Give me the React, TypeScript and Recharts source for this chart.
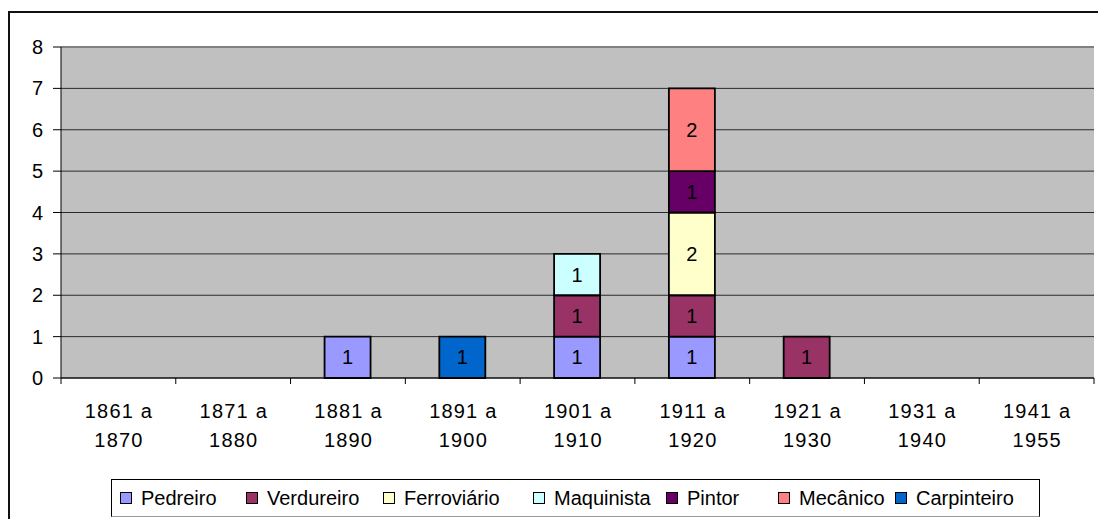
import React from 'react';
import { BarChart, Bar, XAxis, YAxis, CartesianGrid, ReferenceLine, LabelList } from 'recharts';

const categories = ['1861 a 1870', '1871 a 1880', '1881 a 1890', '1891 a 1900', '1901 a 1910', '1911 a 1920', '1921 a 1930', '1931 a 1940', '1941 a 1955'];
const pedreiro = [null, null, 1, null, 1, 1, null, null, null];
const verdureiro = [null, null, null, null, 1, 1, 1, null, null];
const ferroviario = [null, null, null, null, null, 2, null, null, null];
const maquinista = [null, null, null, null, 1, null, null, null, null];
const pintor = [null, null, null, null, null, 1, null, null, null];
const mecanico = [null, null, null, null, null, 2, null, null, null];
const carpinteiro = [null, null, null, 1, null, null, null, null, null];
const yTicks = [0, 1, 2, 3, 4, 5, 6, 7, 8];

const series = [
  { key: 'pedreiro', name: 'Pedreiro', color: '#9999FF', values: pedreiro },
  { key: 'verdureiro', name: 'Verdureiro', color: '#993366', values: verdureiro },
  { key: 'ferroviario', name: 'Ferroviário', color: '#FFFFCC', values: ferroviario },
  { key: 'maquinista', name: 'Maquinista', color: '#CCFFFF', values: maquinista },
  { key: 'pintor', name: 'Pintor', color: '#660066', values: pintor },
  { key: 'mecanico', name: 'Mecânico', color: '#FF8080', values: mecanico },
  { key: 'carpinteiro', name: 'Carpinteiro', color: '#0066CC', values: carpinteiro },
];

const data = categories.map((c, i) => {
  const row: any = { category: c };
  series.forEach((s) => {
    row[s.key] = s.values[i];
  });
  return row;
});

// layout constants
const FONT = '"Liberation Sans", Arial, sans-serif';
const legendItemX = [120, 246, 383, 533, 666, 778, 895];

const CategoryTick = (props: any) => {
  const { x, y, payload, index } = props;
  const half = payload && typeof payload.offset === 'number' && payload.offset > 0 ? payload.offset : 57.4;
  const label: string = String(payload.value);
  const cut = label.lastIndexOf(' ');
  const l1 = label.slice(0, cut);
  const l2 = label.slice(cut + 1);
  return (
    <g>
      <line x1={x - half} x2={x - half} y1={y} y2={y + 6} stroke="#000" strokeWidth={1} />
      {index === categories.length - 1 && (
        <line x1={x + half} x2={x + half} y1={y} y2={y + 6} stroke="#000" strokeWidth={1} />
      )}
      <text x={x + 0.6} y={y + 40} textAnchor="middle" fontSize={20} letterSpacing={1.2} fontFamily={FONT} fill="#000">{l1}</text>
      <text x={x + 0.6} y={y + 69} textAnchor="middle" fontSize={20} letterSpacing={1.2} fontFamily={FONT} fill="#000">{l2}</text>
    </g>
  );
};

const renderLabel = (props: any) => {
  const { x, y, width, height, value } = props;
  if (value === null || value === undefined || value === 0) return null;
  return (
    <text x={x + width / 2} y={y + height / 2 + 7} textAnchor="middle" fontSize={20} fontFamily={FONT} fill="#000">
      {value}
    </text>
  );
};

export default function App() {
  return (
    <div style={{ position: 'fixed', left: 0, top: 0, width: 1098, height: 519, overflow: 'hidden', background: '#fff', fontFamily: FONT }}>
      <div style={{ position: 'absolute', left: 8, top: 11, width: 1120, height: 540, border: '2px solid #111', boxSizing: 'border-box' }} />
      <div style={{ position: 'absolute', left: 0, top: 0 }}>
        <BarChart
          width={1098}
          height={519}
          data={data}
          margin={{ top: 47, right: 4, left: 11, bottom: 61 }}
          barSize={46}
        >
          <CartesianGrid vertical={false} stroke="#2a2a2a" fill="#C0C0C0" fillOpacity={1} />
          <XAxis
            dataKey="category"
            height={80}
            tickSize={0}
            tickMargin={0}
            tickLine={false}
            axisLine={{ stroke: '#000', strokeWidth: 1 }}
            tick={<CategoryTick />}
            interval={0}
          />
          <YAxis
            width={50}
            domain={[0, 8]}
            ticks={yTicks}
            interval={0}
            tickSize={8}
            tickMargin={10}
            axisLine={{ stroke: '#000', strokeWidth: 1 }}
            tickLine={{ stroke: '#000', strokeWidth: 1 }}
            tick={{ fontSize: 20, fill: '#000', fontFamily: FONT }}
            allowDecimals={false}
          />
          <YAxis
            yAxisId="r"
            orientation="right"
            width={0}
            domain={[0, 8]}
            tick={false}
            tickLine={false}
            axisLine={{ stroke: '#808080', strokeWidth: 2 }}
          />
          <ReferenceLine y={8} stroke="#808080" strokeWidth={2} ifOverflow="extendDomain" />
          {series.map((s) => (
            <Bar
              key={s.key}
              dataKey={s.key}
              name={s.name}
              stackId="a"
              fill={s.color}
              stroke="#000"
              strokeWidth={1.8}
              isAnimationActive={false}
            >
              <LabelList dataKey={s.key} content={renderLabel} />
            </Bar>
          ))}
        </BarChart>
      </div>
      <div style={{ position: 'absolute', left: 111, top: 479, width: 929, height: 38, border: '1px solid #000', borderBottomColor: '#999', boxSizing: 'border-box', background: '#fff' }} />
      {series.map((s, i) => (
        <div key={s.key} style={{ position: 'absolute', left: legendItemX[i], top: 486, height: 24, display: 'flex', alignItems: 'center', whiteSpace: 'nowrap' }}>
          <div style={{ width: 12, height: 12, background: s.color, border: '1px solid #000', boxSizing: 'border-box', marginRight: 9 }} />
          <span style={{ fontSize: 20, lineHeight: '24px', color: '#000', fontFamily: FONT }}>{s.name}</span>
        </div>
      ))}
    </div>
  );
}
